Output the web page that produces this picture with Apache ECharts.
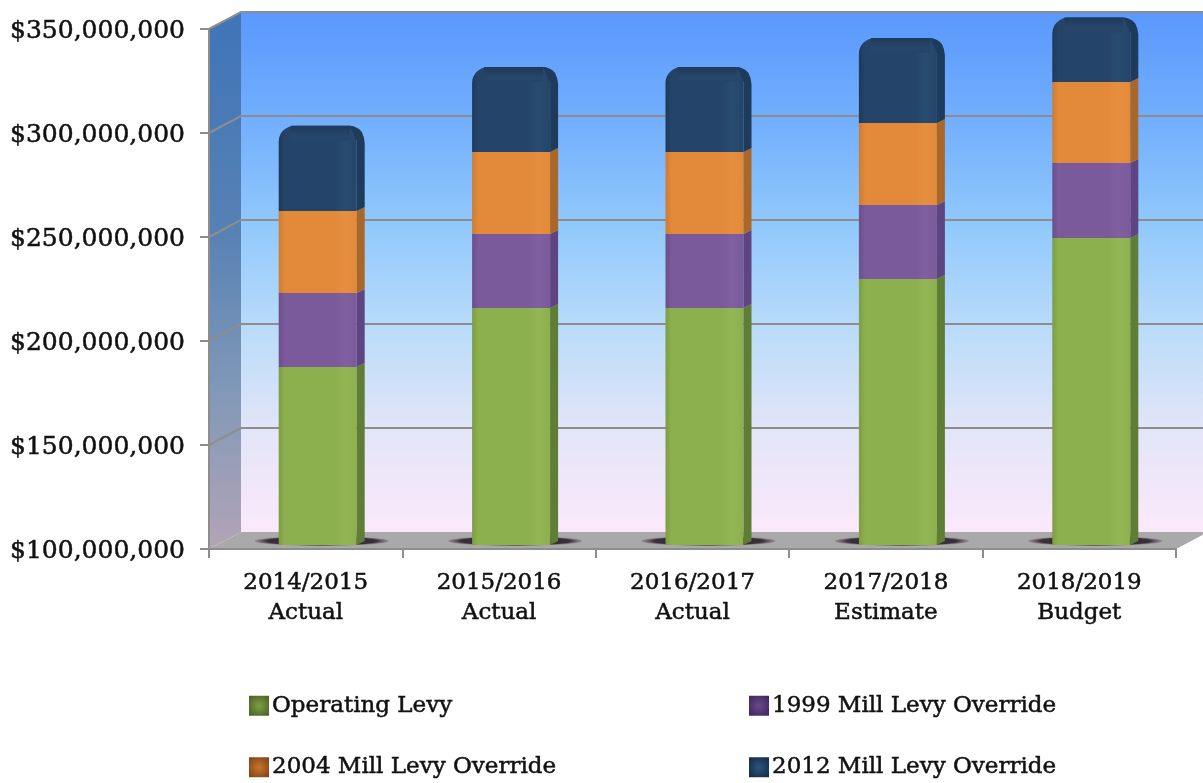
<!DOCTYPE html>
<html>
<head>
<meta charset="utf-8">
<style>
  html, body { margin: 0; padding: 0; background: #fff; }
  #chart { width: 1203px; height: 783px; }
</style>
<script src="https://cdn.jsdelivr.net/npm/echarts@6/dist/echarts.min.js"></script>
</head>
<body>
<div id="chart"></div>
<script>
// data, in dollars
const categories = ['2014/2015\nActual', '2015/2016\nActual', '2016/2017\nActual', '2017/2018\nEstimate', '2018/2019\nBudget'];
const seriesNames = ['Operating Levy', '1999 Mill Levy Override', '2004 Mill Levy Override', '2012 Mill Levy Override'];
const operatingLevy = [185600000, 214000000, 214000000, 227900000, 247600000];
const override1999 = [35600000, 35500000, 35500000, 35600000, 36000000];
const override2004 = [39400000, 39400000, 39400000, 39400000, 39000000];
const override2012 = [41000000, 40900000, 40900000, 40900000, 31000000];
const yTicks = [100000000, 150000000, 200000000, 250000000, 300000000, 350000000];

const values = [operatingLevy, override1999, override2004, override2012];
const frontColors = ['#8db04e', '#7a5a9b', '#e2893a', '#244569'];
const lightColors = ['#94b654', '#8060a1', '#e78f40', '#284c70'];
const edgeColors = ['#7c9d44', '#6b4f8a', '#cd7c33', '#1d3a5a'];
const sideColors = ['#5f7d35', '#5e4581', '#a9682a', '#1e3b5c'];
const legendColors = ['#7f9f45', '#6a4a8c', '#c9742c', '#2c5580'];
const legendDark = ['#4c6527', '#42285f', '#84461a', '#142d49'];

const font = '"DejaVu Serif", serif';
const textColor = '#111';
const axisColor = '#8d8d8d';
const depthX = 32, depthY = 17;   // 3d offset of the back wall
const barFront = 78, sideW = 8, sideRise = 4;

const G = echarts.graphic;
const vert = stops => new G.LinearGradient(0, 0, 0, 1, stops.map(c => ({ offset: c[0], color: c[1] })));
const horiz = stops => new G.LinearGradient(0, 0, 1, 0, stops.map(c => ({ offset: c[0], color: c[1] })));

// back wall, left wall and floor
function renderWalls(params, api) {
  const c = params.coordSys;
  const l = c.x, r = c.x + c.width, t = c.y, b = c.y + c.height;
  return {
    type: 'group',
    children: [
      {
        type: 'polygon',
        shape: { points: [[l + depthX, t - depthY], [r + depthX, t - depthY], [r + depthX, b - depthY], [l + depthX, b - depthY]] },
        style: {
          fill: vert([[0, '#5a98fd'], [0.22, '#74b0fd'], [0.42, '#93cafc'], [0.62, '#bcdcf9'], [0.8, '#e2e5f8'], [1, '#fbe9fb']])
        }
      },
      {
        type: 'polygon',
        shape: { points: [[l, b], [l, t], [l + depthX, t - depthY], [l + depthX, b - depthY]] },
        style: { fill: vert([[0, '#3f74b8'], [0.4, '#5681b4'], [0.7, '#8098b8'], [1, '#b3a4b6']]) }
      },
      {
        type: 'polygon',
        shape: { points: [[l, b], [r, b], [r + depthX, b - depthY], [l + depthX, b - depthY]] },
        style: { fill: '#a9a9a9' }
      }
    ]
  };
}

// grid line on the back wall and its slanted piece on the left wall
function renderGridLine(params, api) {
  const c = params.coordSys;
  const y = api.coord([0, api.value(0)])[1];
  return {
    type: 'polyline',
    shape: { points: [[c.x, y], [c.x + depthX, y - depthY], [c.x + c.width + depthX, y - depthY]] },
    style: { stroke: axisColor, lineWidth: 2, fill: 'none' }
  };
}

// side face of a bar segment, plus the bevel on the top segment
function renderSide(params, api) {
  const seg = api.value(3);
  const base = api.coord([api.value(0), api.value(1)]);
  const top = api.coord([api.value(0), api.value(2)]);
  const half = barFront / 2;
  const fr = base[0] + half, r = fr + sideW;
  const yb = base[1], yt = top[1];
  if (seg < 3) {
    return {
      type: 'polygon',
      shape: { points: [[fr, yb], [r, yb - sideRise], [r, yt - sideRise], [fr, yt]] },
      style: { fill: sideColors[seg] }
    };
  }
  return {
    type: 'group',
    children: [
      {
        type: 'rect',
        shape: { x: base[0] - half + 12, y: yt, width: barFront - 19, height: 15 },
        style: { fill: vert([[0, '#1e3a5b'], [0.7, '#26466a'], [1, '#244569']]) }
      },
      {
        type: 'polygon',
        shape: {
          points: [[fr, yb], [r, yb - sideRise], [r, yt + 17], [r - 1, yt + 11], [r - 3, yt + 6],
            [r - 6, yt + 3], [r - 10, yt + 1], [r - 15, yt], [fr, yt + 15]]
        },
        style: { fill: sideColors[seg] }
      }
    ]
  };
}

function legendItem(s) {
  return {
    name: seriesNames[s],
    icon: 'rect',
    itemStyle: {
      color: new G.RadialGradient(0.5, 0.5, 0.62, [
        { offset: 0, color: legendColors[s] }, { offset: 1, color: legendDark[s] }
      ])
    }
  };
}

const barSeries = seriesNames.map((name, s) => ({
  name: name,
  type: 'bar',
  stack: 'levy',
  xAxisIndex: 1,
  yAxisIndex: 1,
  barWidth: barFront,
  z: 4,
  data: values[s],
  itemStyle: {
    color: horiz([[0, edgeColors[s]], [0.08, frontColors[s]], [0.72, frontColors[s]], [0.85, lightColors[s]], [1, frontColors[s]]]),
    borderRadius: s === 3 ? [16, 6, 0, 0] : 0
  }
}));

// [category, segment bottom, segment top, segment index] for the side faces
const sideData = [];
categories.forEach((cat, i) => {
  let sum = 0;
  values.forEach((v, s) => {
    const from = Math.max(sum, yTicks[0]);
    sum += v[i];
    sideData.push([i, from, sum, s]);
  });
});

const textWeight = { color: textColor, textBorderColor: textColor, textBorderWidth: 0.5 };

const legendBase = {
  top: 694, orient: 'vertical', padding: 0, itemWidth: 20, itemHeight: 20, itemGap: 41,
  textStyle: Object.assign({ fontFamily: font, fontSize: 23, padding: [0, 0, 0, -2] }, textWeight)
};

const chart = echarts.init(document.getElementById('chart'));
chart.setOption({
  animation: false,
  backgroundColor: '#fff',
  grid: [
    { left: 209, top: 29, width: 967, height: 520 },     // front axes
    { left: 221, top: 4.2, width: 967, height: 540.8 }   // bars sit a little deeper, and the last one pokes over 350M
  ],
  legend: [
    Object.assign({ left: 249, data: [legendItem(0), legendItem(2)] }, legendBase, { itemGap: 38 }),
    Object.assign({ left: 749, data: [legendItem(1), legendItem(3)] }, legendBase, { itemGap: 38 })
  ],
  xAxis: [
    {
      type: 'category', gridIndex: 0, data: categories, z: 10,
      axisLine: { show: true, lineStyle: { color: axisColor, width: 2 } },
      axisTick: { show: true, alignWithLabel: false, length: 9, lineStyle: { color: axisColor, width: 2 } },
      axisLabel: Object.assign({ fontFamily: font, fontSize: 23, lineHeight: 30, margin: 19 }, textWeight)
    },
    { type: 'category', gridIndex: 1, data: categories, show: false }
  ],
  yAxis: [
    {
      type: 'value', gridIndex: 0, min: 100000000, max: 350000000, interval: 50000000, z: 10,
      splitLine: { show: false },
      axisLine: { show: true, lineStyle: { color: axisColor, width: 2 } },
      axisTick: { show: true, length: 9, lineStyle: { color: axisColor, width: 2 } },
      axisLabel: Object.assign({
        fontFamily: font, fontSize: 25, margin: 24, verticalAlign: 'top', lineHeight: 4,
        formatter: v => '$' + v.toLocaleString('en-US')
      }, textWeight)
    },
    { type: 'value', gridIndex: 1, min: 100000000, max: 360000000, show: false }
  ],
  series: [
    { type: 'custom', xAxisIndex: 0, yAxisIndex: 0, z: 0, silent: true, renderItem: renderWalls, data: [[0]] },
    {
      type: 'custom', xAxisIndex: 0, yAxisIndex: 0, z: 1, silent: true, renderItem: renderGridLine,
      encode: { y: 0 }, data: yTicks.slice(1).map(v => [v])
    },
    {
      type: 'scatter', xAxisIndex: 1, yAxisIndex: 1, z: 2, silent: true, clip: false,
      symbol: 'circle', symbolSize: [134, 10], symbolOffset: [4, -4],
      itemStyle: {
        color: new G.RadialGradient(0.5, 0.5, 0.5, [
          { offset: 0, color: '#0e090e' }, { offset: 0.82, color: '#1c111c' }, { offset: 1, color: 'rgba(90,60,90,0.35)' }
        ])
      },
      data: categories.map((c, i) => [i, yTicks[0]])
    }
  ].concat(barSeries, [
    {
      type: 'custom', xAxisIndex: 1, yAxisIndex: 1, z: 5, silent: true,
      renderItem: renderSide, encode: { x: 0, y: 2 }, data: sideData
    }
  ])
});
</script>
</body>
</html>
